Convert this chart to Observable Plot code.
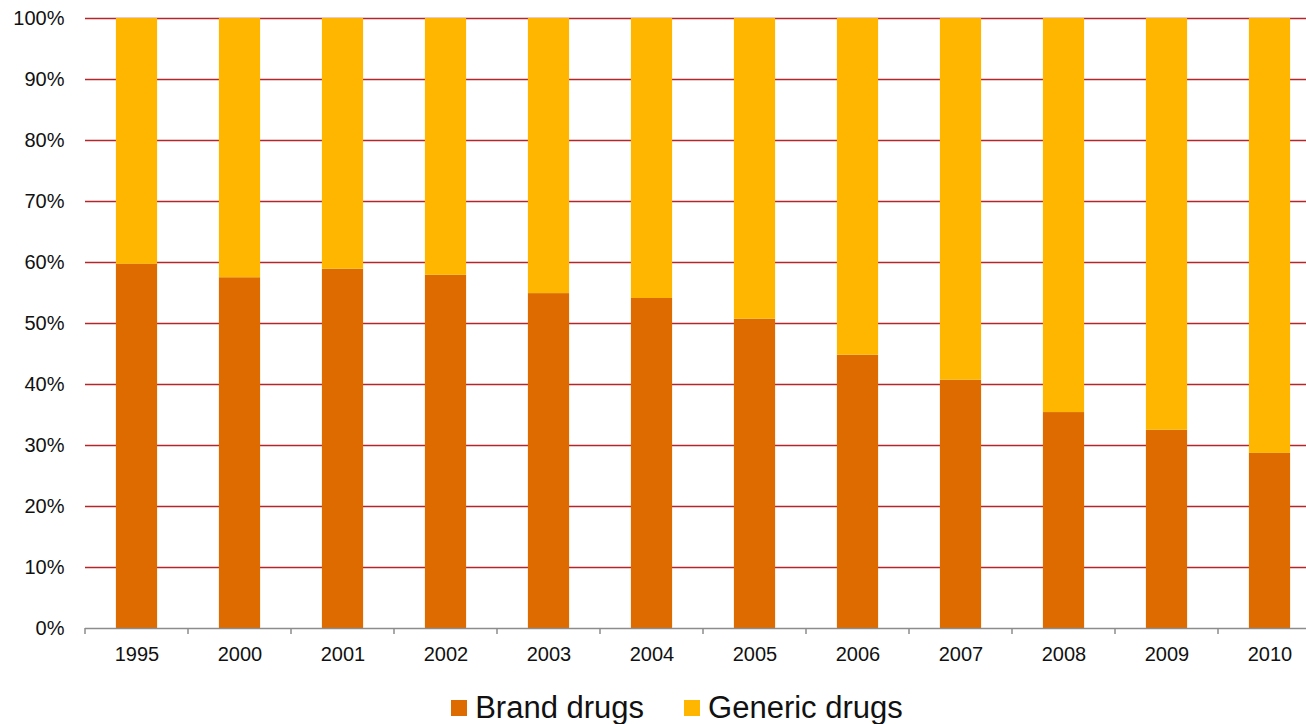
<!DOCTYPE html>
<html>
<head>
<meta charset="utf-8">
<script src="https://cdn.jsdelivr.net/npm/d3@7"></script>
<script src="https://cdn.jsdelivr.net/npm/@observablehq/plot@0.6"></script>
<style>
  html, body { margin: 0; background: #fff; font-family: "Liberation Sans", Arial, sans-serif; overflow: hidden; }
  #chart { width: 1306px; height: 680px; overflow: hidden; }
  #chart svg { max-width: none !important; }
  #legend { width: 1258px; display: flex; justify-content: center; align-items: center; gap: 40px; font-size: 31px; line-height: 36px; color: #111; margin-top: 10px; padding-left: 48px; }
  .item { display: flex; align-items: center; gap: 8px; }
  .sw { width: 16px; height: 16px; display: inline-block; }
</style>
</head>
<body>
<div id="chart"></div>
<div id="legend"></div>
<script>
const years = ["1995","2000","2001","2002","2003","2004","2005","2006","2007","2008","2009","2010"];
const brand = [59.7, 57.5, 58.9, 57.9, 54.9, 54.1, 50.7, 44.8, 40.7, 35.4, 32.5, 28.7];
const seriesNames = ["Brand drugs", "Generic drugs"];
const colors = ["#DD6B00", "#FFB600"];
const yTicks = [0,10,20,30,40,50,60,70,80,90,100];

const data = [];
years.forEach((y, i) => data.push({year: y, type: seriesNames[0], value: brand[i]}));
years.forEach((y, i) => data.push({year: y, type: seriesNames[1], value: 100 - brand[i]}));

const bandTicks = (index, scales, values, dims) => {
  const g = d3.create("svg:g");
  const x = scales.x;
  const bw = x.bandwidth();
  const step = x.step();
  const edges = years.map(y => x(y) - (step - bw) / 2);
  edges.push(x(years[years.length - 1]) + bw + (step - bw) / 2);
  const y0 = scales.y(0);
  for (const e of edges) {
    g.append("line").attr("x1", e).attr("x2", e).attr("y1", y0).attr("y2", y0 + 6)
      .attr("stroke", "#8c8c8c").attr("stroke-width", 1.5);
  }
  return g.node();
};

const chart = Plot.plot({
  width: 1321,
  height: 680,
  marginTop: 18,
  marginBottom: 52,
  marginLeft: 85,
  marginRight: 0,
  style: {fontFamily: "Liberation Sans, Arial, sans-serif", color: "#111", maxWidth: "none"},
  x: {domain: years, paddingInner: 0.6, paddingOuter: 0.3, round: false, label: null},
  y: {domain: [0, 100], label: null},
  color: {domain: seriesNames, range: colors},
  marks: [
    Plot.ruleY(yTicks.filter(d => d > 0), {stroke: "#b3262b", strokeWidth: 1.5}),
    Plot.barY(data, {x: "year", y: "value", fill: "type"}),
    Plot.ruleY([0], {stroke: "#8c8c8c", strokeWidth: 1.5}),
    bandTicks,
    Plot.axisY({ticks: yTicks, tickFormat: d => d + "%", tickSize: 0, tickPadding: 21, fontSize: 20, label: null}),
    Plot.axisX({tickSize: 0, tickPadding: 18, fontSize: 20, label: null})
  ]
});
document.getElementById("chart").appendChild(chart);

const legend = document.getElementById("legend");
seriesNames.forEach((n, i) => {
  const it = document.createElement("div");
  it.className = "item";
  const sw = document.createElement("span");
  sw.className = "sw";
  sw.style.background = colors[i];
  const t = document.createElement("span");
  t.textContent = n;
  it.appendChild(sw); it.appendChild(t);
  legend.appendChild(it);
});
</script>
</body>
</html>
